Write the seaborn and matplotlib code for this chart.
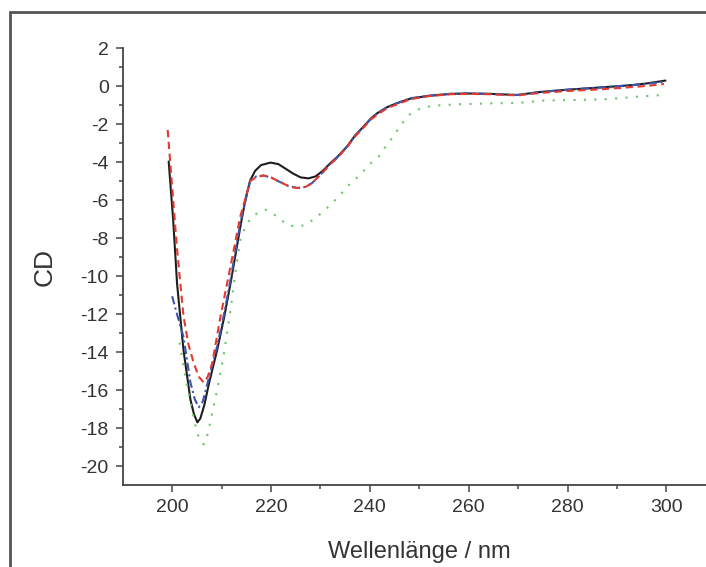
import matplotlib
matplotlib.use("Agg")
import matplotlib.pyplot as plt
import seaborn as sns
import pandas as pd
from matplotlib.lines import Line2D

# ---- data ----
black_wl = [199.3, 200.2, 201.0, 202.3, 203.7, 204.4, 205.1, 205.7, 206.5, 207.5, 209.1, 210.5,
            211.8, 213.8, 214.8, 215.8, 216.8, 218.0, 219.9, 221.5, 223.0, 224.5, 226.0, 227.6,
            229.0, 230.5, 232.0, 233.5, 235.4, 237.0, 238.8, 240.2, 241.5, 243.5, 245.5, 248.2,
            252.0, 256.3, 260.0, 264.4, 269.8, 274.5, 280.0, 284.6, 290.0, 293.4, 296.0, 299.8]
black_cd = [-3.96, -7.0, -10.4, -13.9, -16.5, -17.25, -17.7, -17.5, -16.8, -15.6, -13.9, -12.2,
            -10.4, -7.4, -6.0, -4.95, -4.45, -4.15, -4.02, -4.1, -4.35, -4.6, -4.8, -4.85,
            -4.75, -4.45, -4.05, -3.7, -3.17, -2.6, -2.1, -1.7, -1.42, -1.1, -0.89, -0.65,
            -0.5, -0.40, -0.38, -0.40, -0.46, -0.30, -0.18, -0.10, 0.0, 0.07, 0.15, 0.3]

red_wl = [199.1, 200.0, 201.0, 202.3, 203.3, 204.4, 205.4, 206.4, 207.2, 208.1, 209.8, 211.8,
          213.8, 215.8, 217.0, 218.5, 220.0, 221.5, 223.5, 225.3, 227.0, 228.3, 229.3, 230.6,
          232.0, 233.5, 235.4, 237.0, 238.8, 240.2, 241.5, 243.5, 245.5, 248.2, 252.0, 256.3,
          260.0, 264.4, 269.8, 274.5, 280.0, 286.6, 290.0, 296.1, 299.5]
red_cd = [-2.3, -5.3, -8.6, -12.1, -13.6, -14.6, -15.3, -15.6, -15.3, -14.6, -12.1, -9.5,
          -6.85, -5.0, -4.78, -4.7, -4.8, -5.0, -5.25, -5.36, -5.3, -5.1, -4.85, -4.5,
          -4.1, -3.75, -3.2, -2.65, -2.15, -1.75, -1.5, -1.15, -0.95, -0.68, -0.52, -0.42,
          -0.4, -0.42, -0.48, -0.35, -0.25, -0.16, -0.1, 0.02, 0.12]

blue_wl = [200.0, 201.2, 202.3, 203.7, 204.6, 205.4, 206.2, 207.0, 209.1, 210.5, 211.8, 213.8,
           215.8, 217.0, 218.5, 220.0, 221.5, 223.5, 225.3, 227.0, 228.3, 229.3, 230.6, 232.0,
           233.5, 235.4, 237.0, 238.8, 240.2, 241.5, 243.5, 245.5, 248.2, 252.0, 256.3, 260.0,
           264.4, 269.8, 274.5, 280.0, 284.6, 290.0, 293.4, 296.0, 299.8]
blue_cd = [-11.06, -12.2, -13.2, -15.6, -16.5, -16.9, -16.6, -15.8, -13.7, -12.0, -10.2, -7.2,
           -4.95, -4.75, -4.7, -4.8, -5.0, -5.25, -5.36, -5.3, -5.1, -4.83, -4.5, -4.08,
           -3.72, -3.17, -2.6, -2.12, -1.72, -1.42, -1.1, -0.89, -0.63, -0.5, -0.40, -0.38,
           -0.40, -0.46, -0.30, -0.18, -0.10, 0.0, 0.07, 0.13, 0.25]

green_wl = [201.5, 202.8, 204.4, 205.1, 205.8, 206.4, 207.0, 207.7, 209.1, 210.4, 211.8, 212.8,
            213.8, 214.8, 215.8, 216.8, 217.9, 218.9, 221.2, 223.3, 225.3, 227.0, 229.0, 231.0,
            232.7, 234.4, 236.1, 238.1, 239.8, 241.8, 243.2, 244.5, 246.0, 247.0, 248.0, 249.5,
            250.9, 253.0, 257.6, 264.4, 270.0, 275.2, 282.0, 288.0, 294.0, 299.8]
green_cd = [-13.5, -15.5, -17.5, -18.3, -18.7, -18.86, -18.5, -17.7, -16.0, -14.2, -11.8, -9.8,
            -8.1, -7.4, -7.0, -6.75, -6.6, -6.5, -6.85, -7.3, -7.4, -7.3, -6.94, -6.5,
            -6.07, -5.6, -5.1, -4.66, -4.13, -3.7, -3.17, -2.73, -2.15, -1.8, -1.5, -1.25,
            -1.12, -1.02, -0.95, -0.9, -0.88, -0.75, -0.72, -0.68, -0.55, -0.45]

x_ticks = [200, 220, 240, 260, 280, 300]
y_ticks = [2, 0, -2, -4, -6, -8, -10, -12, -14, -16, -18, -20]

sns.set_theme(style="white")
plt.rcParams['font.family'] = ['Liberation Sans', 'DejaVu Sans']
plt.rcParams['axes.unicode_minus'] = False
plt.rcParams['lines.solid_joinstyle'] = 'round'
plt.rcParams['lines.dash_joinstyle'] = 'round'

fig = plt.figure(figsize=(7.06, 5.67), dpi=100)
W, H = 706, 567
left_px, bottom_px, top_px = 122.7, 485.0, 48.3
xmin, xmax = 190, 310
ymin, ymax = -21, 2
px_per_nm = (666 - 171.7) / 100.0
right_px = left_px + (xmax - xmin) * px_per_nm
ax = fig.add_axes([left_px / W, 1 - bottom_px / H, (right_px - left_px) / W, (bottom_px - top_px) / H])

lw = 1.5
series = [
    (black_wl, black_cd, "#1e1e1e", "-"),
    (blue_wl, blue_cd, "#3a56b0", (0, (4, 1.6, 1, 1.6))),
    (red_wl, red_cd, "#e5392f", (0, (3.5, 2.2))),
    (green_wl, green_cd, "#6cc46c", (0, (1, 4))),
]
for wl, cd, col, ls in series:
    df = pd.DataFrame({"wl": wl, "cd": cd})
    sns.lineplot(data=df, x="wl", y="cd", ax=ax, color=col, linewidth=lw,
                 linestyle=ls, estimator=None, sort=True)

ax.set_xlim(xmin, xmax)
ax.set_ylim(ymin, ymax)
ax.set_xticks(x_ticks)
ax.set_yticks(y_ticks)
ax.set_xticks([210, 230, 250, 270, 290], minor=True)
ax.set_yticks([1, -1, -3, -5, -7, -9, -11, -13, -15, -17, -19], minor=True)

for s in ["top", "right"]:
    ax.spines[s].set_visible(False)
for s in ["left", "bottom"]:
    ax.spines[s].set_color("#444444")
    ax.spines[s].set_linewidth(1.3)

ax.tick_params(axis="both", which="major", direction="out", length=5, width=1.1,
               color="#444444", labelsize=14, labelcolor="#333333", pad=5,
               bottom=True, left=True)
ax.tick_params(axis="both", which="minor", direction="out", length=3, width=1.1,
               color="#444444", bottom=True, left=True)

ax.set_xlabel("Wellenlänge / nm", fontsize=17, color="#333333", labelpad=18)
ax.set_ylabel("CD", fontsize=19, color="#333333", labelpad=17)
ax.grid(False)

# outer frame of the picture
fig.add_artist(Line2D([10 / W, 10 / W], [-0.1, 1 - 12 / H], transform=fig.transFigure,
                      color="#555555", linewidth=2.0))
fig.add_artist(Line2D([10 / W, 1.1], [1 - 12 / H, 1 - 12 / H], transform=fig.transFigure,
                      color="#555555", linewidth=2.0))

fig.savefig("out.png", dpi=100)
